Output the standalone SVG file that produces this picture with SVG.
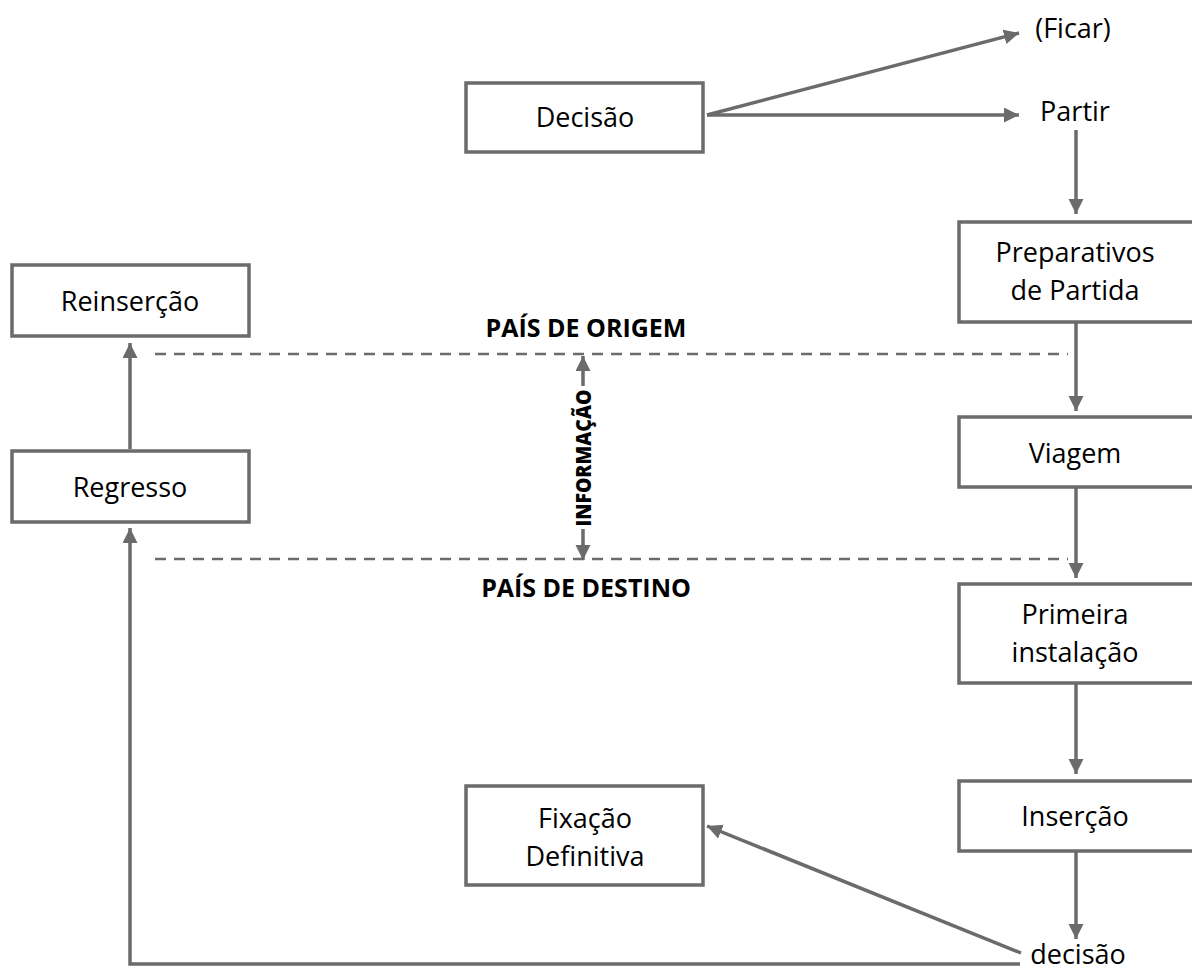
<svg xmlns="http://www.w3.org/2000/svg" width="1192" height="972" viewBox="0 0 1192 972">
<style>
.box{fill:#fff;stroke:#6b6b6b;stroke-width:3.5}
.t{font-family:"Open Sans","Noto Sans",sans-serif;font-size:27px;fill:#000;text-anchor:middle}
.b{font-family:"Open Sans","Noto Sans",sans-serif;font-size:25px;font-weight:bold;fill:#000;text-anchor:middle}
.c{fill:none;stroke:#6b6b6b;stroke-width:3.5}
.d{fill:none;stroke:#6b6b6b;stroke-width:2.5;stroke-dasharray:11 8}
</style>
<defs>
<marker id="ah" markerUnits="userSpaceOnUse" markerWidth="16" markerHeight="16" refX="15" refY="7.5" orient="auto-start-reverse" viewBox="0 0 16 16">
<path d="M0,0 L15,7.5 L0,15 Z" fill="#6b6b6b"/>
</marker>
</defs>
<rect width="1192" height="972" fill="#fff"/>
<g id="connectors">
<line class="c" x1="707" y1="115" x2="1019" y2="33" marker-end="url(#ah)"/>
<line class="c" x1="707" y1="115" x2="1019" y2="115" marker-end="url(#ah)"/>
<line class="c" x1="1076" y1="130" x2="1076" y2="214" marker-end="url(#ah)"/>
<line class="c" x1="1076" y1="323" x2="1076" y2="411" marker-end="url(#ah)"/>
<line class="c" x1="1076" y1="488" x2="1076" y2="578" marker-end="url(#ah)"/>
<line class="c" x1="1076" y1="684" x2="1076" y2="774" marker-end="url(#ah)"/>
<line class="c" x1="1076" y1="852" x2="1076" y2="939" marker-end="url(#ah)"/>
<line class="c" x1="1021" y1="953" x2="707" y2="826" marker-end="url(#ah)"/>
<polyline class="c" points="1020,964 130,964 130,528" marker-end="url(#ah)"/>
<line class="c" x1="130" y1="449" x2="130" y2="343" marker-end="url(#ah)"/>
<line class="d" x1="155" y1="354" x2="1068" y2="354"/>
<line class="d" x1="155" y1="559" x2="1068" y2="559"/>
<line class="c" x1="583" y1="386" x2="583" y2="356" marker-end="url(#ah)"/>
<line class="c" x1="583" y1="529" x2="583" y2="560" marker-end="url(#ah)"/>
</g>
<g id="decisao"><rect class="box" x="466" y="83" width="237" height="69"/><text class="t" x="585" y="127">Decisão</text></g>
<g id="ficar"><text class="t" x="1073" y="38">(Ficar)</text></g>
<g id="partir"><text class="t" x="1075" y="121">Partir</text></g>
<g id="preparativos"><rect class="box" x="959" y="222" width="250" height="100"/><text class="t" x="1075" y="262">Preparativos</text><text class="t" x="1075" y="300">de Partida</text></g>
<g id="viagem"><rect class="box" x="959" y="417" width="250" height="70"/><text class="t" x="1075" y="463">Viagem</text></g>
<g id="primeira"><rect class="box" x="959" y="584" width="250" height="99"/><text class="t" x="1075" y="624">Primeira</text><text class="t" x="1075" y="662">instalação</text></g>
<g id="insercao"><rect class="box" x="959" y="781" width="250" height="70"/><text class="t" x="1075" y="826">Inserção</text></g>
<g id="decisao2"><text class="t" x="1078" y="964">decisão</text></g>
<g id="fixacao"><rect class="box" x="466" y="786" width="237" height="99"/><text class="t" x="585" y="828">Fixação</text><text class="t" x="585" y="866">Definitiva</text></g>
<g id="reinsercao"><rect class="box" x="12" y="265" width="237" height="71"/><text class="t" x="130" y="311">Reinserção</text></g>
<g id="regresso"><rect class="box" x="12" y="451" width="237" height="71"/><text class="t" x="130" y="497">Regresso</text></g>
<g id="labels">
<text class="b" x="586" y="337">PAÍS DE ORIGEM</text>
<text class="b" x="586" y="597">PAÍS DE DESTINO</text>
<text class="b" transform="translate(591,458) rotate(-90)" x="0" y="0" style="font-size:21px;font-weight:800" textLength="137" lengthAdjust="spacingAndGlyphs">INFORMAÇÃO</text>
</g>
</svg>
